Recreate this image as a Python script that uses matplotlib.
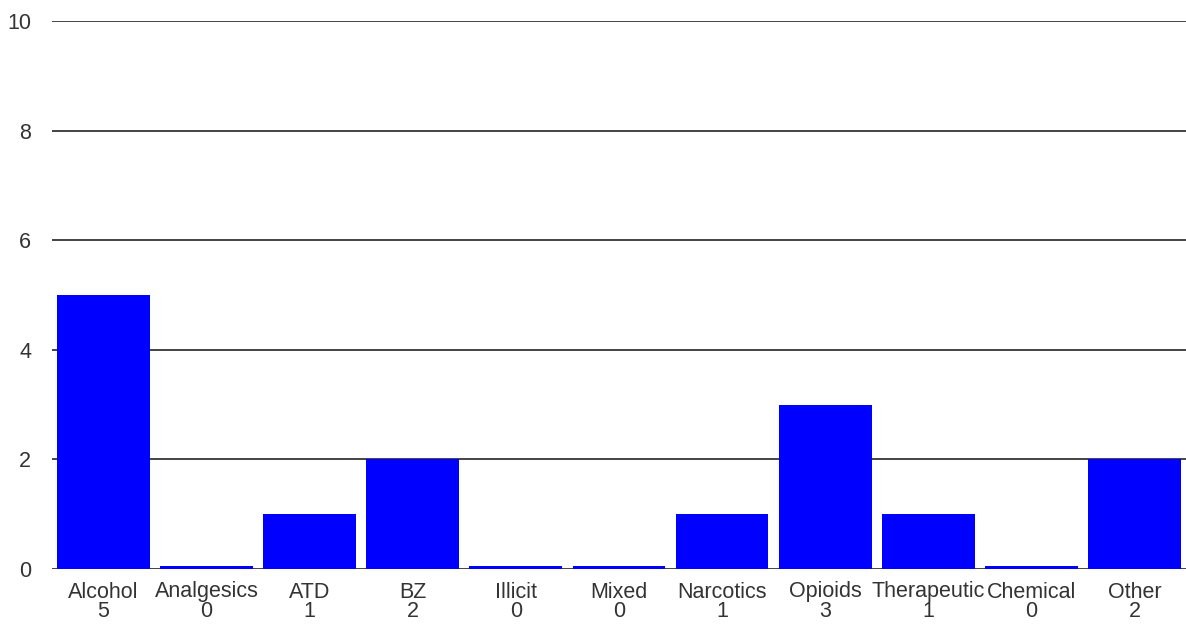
import matplotlib.pyplot as plt
import numpy as np

categories = ['Alcohol', 'Analgesics', 'ATD', 'BZ', 'Illicit', 'Mixed',
              'Narcotics', 'Opioids', 'Therapeutic', 'Chemical', 'Other']
counts = [5, 0, 1, 2, 0, 0, 1, 3, 1, 0, 2]
yticks = [0, 2, 4, 6, 8, 10]

plt.rcParams['font.family'] = ['Liberation Sans', 'DejaVu Sans']

fig = plt.figure(figsize=(11.86, 6.25), dpi=100)
ax = fig.add_axes([0.0438, 0.0896, 0.9562, 0.8768])

x = np.arange(len(categories))
vals = np.array(counts, dtype=float)
# zero counts are shown as a thin sliver around the baseline
heights = np.where(vals == 0, 0.1, vals)
bottoms = np.where(vals == 0, -0.05, 0)
ax.bar(x, heights, bottom=bottoms, width=0.9, color='#0000ff', zorder=3)

for y in yticks:
    ax.axhline(y, color='#111111', lw=1.1, zorder=1)

ax.set_xlim(-0.5, len(categories) - 0.5)
ax.set_ylim(0, 10)
ax.set_yticks(yticks)
ax.set_xticks(x)
ax.set_xticklabels([f'{c}\n{v}' for c, v in zip(categories, counts)],
                   linespacing=0.92)
ax.tick_params(axis='both', length=0, labelsize=15.5, colors='#333333')
ax.tick_params(axis='y', pad=15)
ax.tick_params(axis='x', pad=9)
for s in ax.spines.values():
    s.set_visible(False)

fig.savefig('out.png', dpi=100)
